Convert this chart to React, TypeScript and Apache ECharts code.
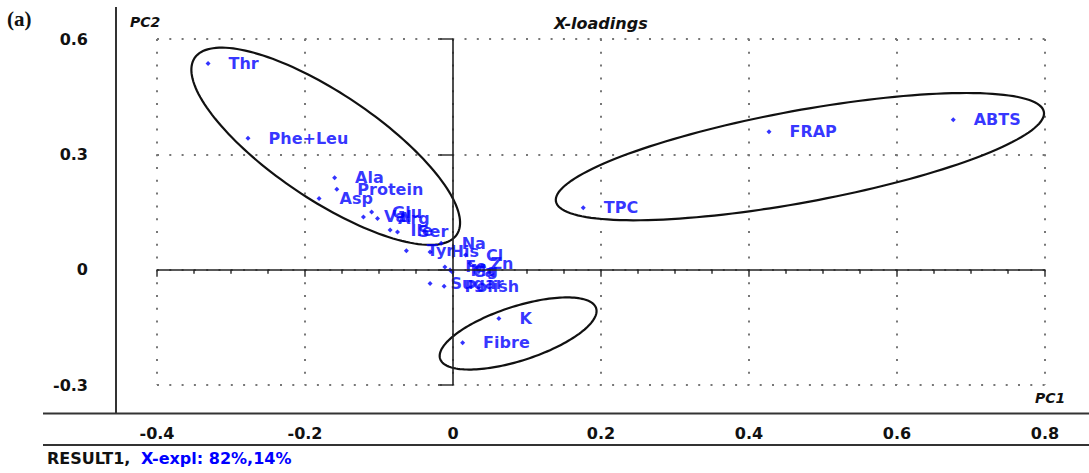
import React, { useEffect, useRef } from "react";
import * as echarts from "echarts";

// Loadings on the first two principal components
const LABELS = [
  "Thr", "Phe+Leu", "Ala", "Protein", "Asp", "Glu", "Val", "Arg", "Ile", "Ser",
  "Tyr", "His", "Na", "Cl", "Fe", "Mg", "Ca", "Zn", "Sugar", "Polish",
  "K", "Fibre", "TPC", "FRAP", "ABTS",
];
const PC1 = [
  -0.331, -0.277, -0.160, -0.157, -0.181, -0.110, -0.121, -0.102, -0.085, -0.075,
  -0.063, -0.031, -0.016, 0.017, -0.011, -0.004, -0.001, 0.023, -0.031, -0.012,
  0.062, 0.013, 0.176, 0.427, 0.676,
];
const PC2 = [
  0.536, 0.342, 0.239, 0.209, 0.185, 0.150, 0.137, 0.133, 0.103, 0.098,
  0.049, 0.046, 0.069, 0.038, 0.007, -0.001, -0.006, 0.017, -0.036, -0.043,
  -0.127, -0.190, 0.161, 0.359, 0.390,
];

// Group outlines in data units: centre, major half-axis vector, minor half-axis vector
const GROUP_CENTRE_X = [-0.172, 0.4688, 0.088];
const GROUP_CENTRE_Y = [0.321, 0.294, -0.166];
const GROUP_MAJOR = [
  [0.1771, -0.2297],
  [0.3297, 0.1165],
  [0.1054, 0.0658],
];
const GROUP_MINOR = [
  [-0.04, -0.1142],
  [0.0112, -0.1176],
  [0.0112, -0.0669],
];

const X_TICKS = { min: -0.4, max: 0.8, interval: 0.2 };
const Y_TICKS = { min: -0.3, max: 0.6, interval: 0.3 };

const BLUE = "#0000ff";
const INK = "#111111";
const FONT = "DejaVu Sans";

export default function App() {
  const ref = useRef<HTMLDivElement>(null);

  useEffect(() => {
    if (!ref.current) return;
    const chart = echarts.init(ref.current, undefined, { renderer: "svg" });

    const points = LABELS.map((name, i) => ({ name, value: [PC1[i], PC2[i]] }));
    const groups = GROUP_CENTRE_X.map((cx, i) => [
      cx,
      GROUP_CENTRE_Y[i],
      GROUP_MAJOR[i][0],
      GROUP_MAJOR[i][1],
      GROUP_MINOR[i][0],
      GROUP_MINOR[i][1],
    ]);

    const fmt = (v: number) => (v === 0 ? "0" : String(Number(v.toFixed(1))));

    chart.setOption({
      animation: false,
      textStyle: { fontFamily: FONT },
      grid: { left: 157, right: 44, top: 39, bottom: 88, containLabel: false },
      xAxis: {
        type: "value",
        min: X_TICKS.min,
        max: X_TICKS.max,
        interval: X_TICKS.interval,
        position: "bottom",
        offset: 28.5,
        axisLine: { show: false },
        axisTick: { show: true, length: 7, lineStyle: { color: "#333", width: 1.5 } },
        minorTick: { show: true, splitNumber: 4, length: 4, lineStyle: { color: "#333", width: 1.5 } },
        axisLabel: {
          margin: 12,
          color: INK,
          fontFamily: FONT,
          fontWeight: "bold",
          fontSize: 16,
          formatter: fmt,
        },
        splitLine: {
          show: true,
          lineStyle: { color: "#777", width: 2, type: [2, 10.8] },
        },
      },
      yAxis: {
        type: "value",
        min: Y_TICKS.min,
        max: Y_TICKS.max,
        interval: Y_TICKS.interval,
        position: "left",
        offset: 41,
        axisLine: { show: false },
        axisTick: { show: true, length: 15, lineStyle: { color: "#333", width: 1.5 } },
        axisLabel: {
          margin: 28,
          color: INK,
          fontFamily: FONT,
          fontWeight: "bold",
          fontSize: 16,
          formatter: fmt,
        },
        splitLine: {
          show: true,
          lineStyle: { color: "#777", width: 2, type: [2, 10.3] },
        },
      },
      series: [
        {
          type: "custom",
          coordinateSystem: "cartesian2d",
          data: groups,
          encode: { x: 0, y: 1 },
          clip: false,
          silent: true,
          z: 3,
          renderItem: (_params: any, api: any) => {
            const cx = api.value(0);
            const cy = api.value(1);
            const ux = api.value(2);
            const uy = api.value(3);
            const vx = api.value(4);
            const vy = api.value(5);
            const pts: number[][] = [];
            const n = 160;
            for (let k = 0; k < n; k++) {
              const t = (k / n) * Math.PI * 2;
              const c = Math.cos(t);
              const s = Math.sin(t);
              pts.push(api.coord([cx + c * ux + s * vx, cy + c * uy + s * vy]));
            }
            return {
              type: "polygon",
              shape: { points: pts },
              style: { fill: "none", stroke: "#111", lineWidth: 2.2 },
            };
          },
        },
        {
          type: "scatter",
          data: points,
          symbol: "diamond",
          symbolSize: 5,
          z: 4,
          itemStyle: { color: BLUE },
          label: {
            show: true,
            position: "right",
            distance: 18,
            formatter: "{b}",
            color: BLUE,
            fontFamily: FONT,
            fontWeight: "bold",
            fontSize: 16,
          },
          markLine: {
            silent: true,
            symbol: "none",
            label: { show: false },
            lineStyle: { color: "#222", width: 1.6, type: "solid" },
            data: [{ xAxis: 0 }, { yAxis: 0 }],
          },
        },
      ],
      graphic: [
        { type: "line", shape: { x1: 116, y1: 7, x2: 116, y2: 414 }, style: { stroke: "#333", lineWidth: 2 } },
        { type: "line", shape: { x1: 43, y1: 413.5, x2: 1089, y2: 413.5 }, style: { stroke: "#333", lineWidth: 2 } },
        { type: "line", shape: { x1: 43, y1: 445, x2: 1089, y2: 445 }, style: { stroke: "#333", lineWidth: 2 } },
        {
          type: "text",
          x: 7,
          y: 19,
          style: { text: "(a)", fill: INK, font: 'bold 21px "Liberation Serif"', verticalAlign: "middle" },
        },
        {
          type: "text",
          x: 130,
          y: 22,
          style: { text: "PC2", fill: INK, font: `italic bold 14px "${FONT}"`, verticalAlign: "middle" },
        },
        {
          type: "text",
          x: 554,
          y: 23,
          style: { text: "X-loadings", fill: INK, font: `italic bold 16px "${FONT}"`, verticalAlign: "middle" },
        },
        {
          type: "text",
          x: 1035,
          y: 398,
          style: { text: "PC1", fill: INK, font: `italic bold 14px "${FONT}"`, verticalAlign: "middle" },
        },
        {
          type: "text",
          x: 47,
          y: 458,
          style: { text: "RESULT1,", fill: INK, font: `bold 16px "${FONT}"`, verticalAlign: "middle" },
        },
        {
          type: "text",
          x: 141,
          y: 458,
          style: { text: "X-expl: 82%,14%", fill: BLUE, font: `bold 16px "${FONT}"`, verticalAlign: "middle" },
        },
      ],
    });

    return () => chart.dispose();
  }, []);

  return (
    <div
      ref={ref}
      style={{ position: "absolute", left: 0, top: 0, width: 1089, height: 473, background: "#fff" }}
    />
  );
}
